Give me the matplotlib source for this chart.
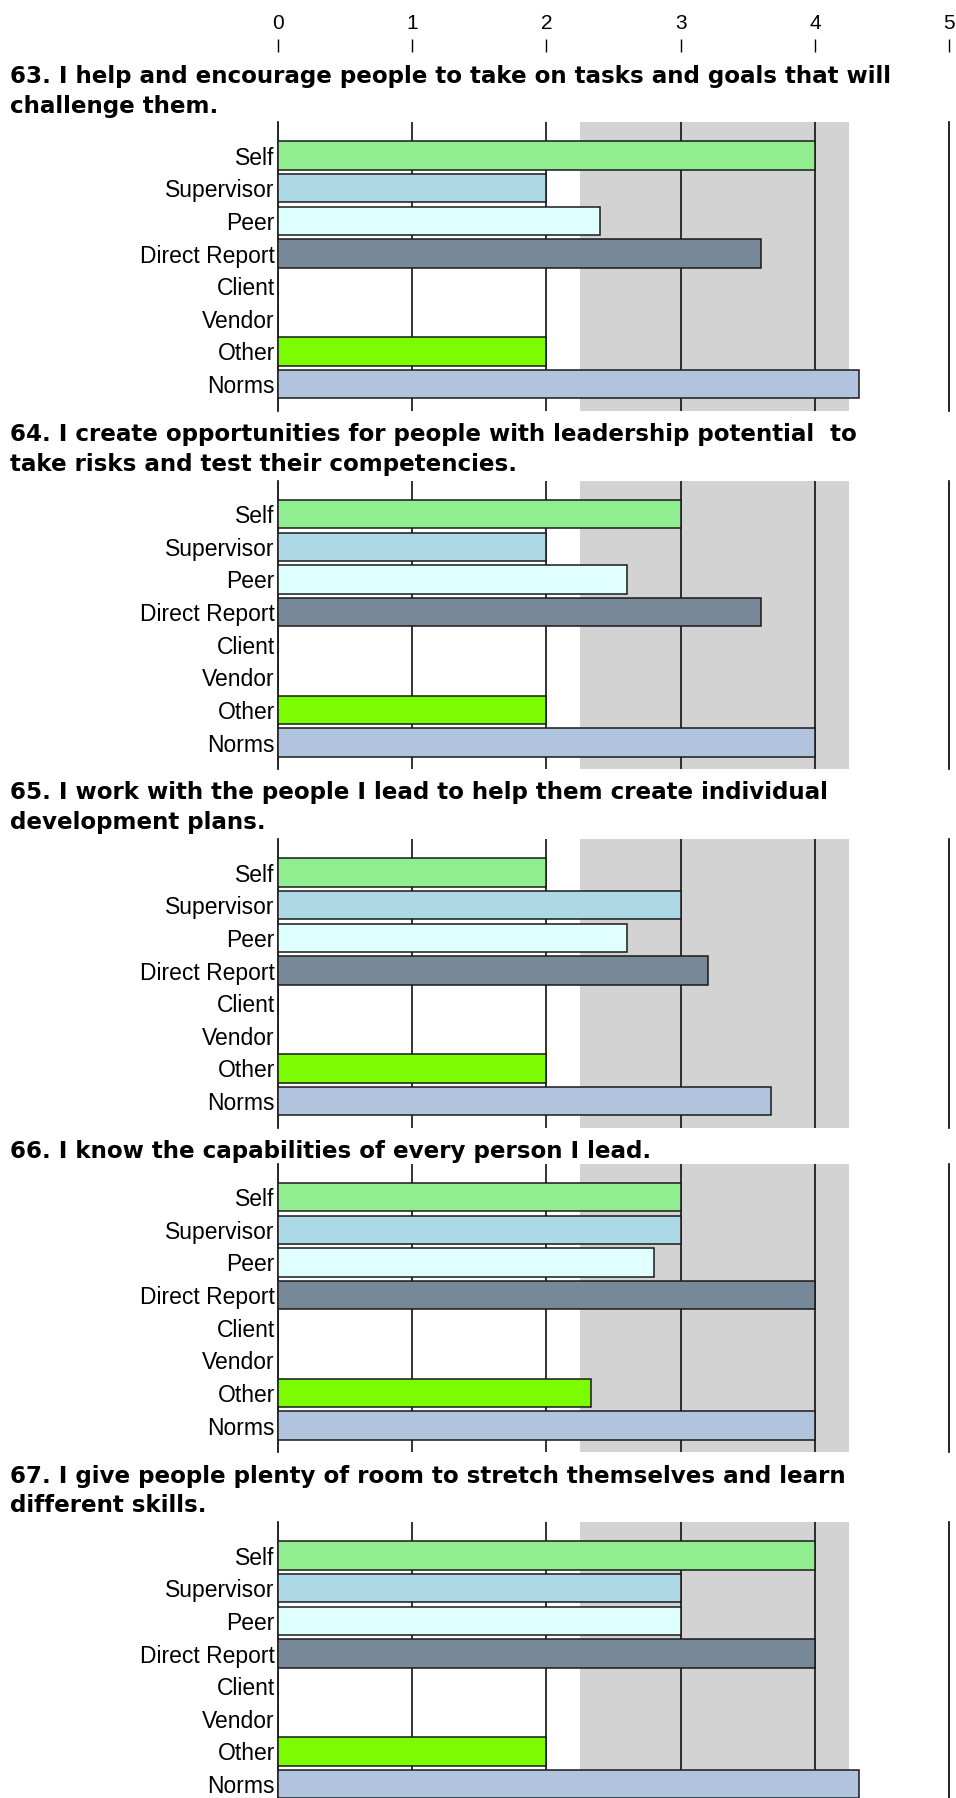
import matplotlib
matplotlib.use("Agg")
import matplotlib.pyplot as plt

# rater groups, top to bottom
categories = ["Self", "Supervisor", "Peer", "Direct Report", "Client", "Vendor", "Other", "Norms"]
colors = ["#90EE90", "#ADD8E6", "#E0FFFF", "#778899", "#FFFFFF", "#FFFFFF", "#7CFC00", "#B0C4DE"]

titles = [
    "63. I help and encourage people to take on tasks and goals that will\nchallenge them.",
    "64. I create opportunities for people with leadership potential  to\ntake risks and test their competencies.",
    "65. I work with the people I lead to help them create individual\ndevelopment plans.",
    "66. I know the capabilities of every person I lead.",
    "67. I give people plenty of room to stretch themselves and learn\ndifferent skills.",
]

q63 = [4, 2, 2.4, 3.6, 0, 0, 2, 4.33]
q64 = [3, 2, 2.6, 3.6, 0, 0, 2, 4]
q65 = [2, 3, 2.6, 3.2, 0, 0, 2, 3.67]
q66 = [3, 3, 2.8, 4, 0, 0, 2.33, 4]
q67 = [4, 3, 3, 4, 0, 0, 2, 4.33]
scores = [q63, q64, q65, q66, q67]

ticks = [0, 1, 2, 3, 4, 5]
tick_labels = ["0", "1", "2", "3", "4", "5"]
band = (2.25, 4.25)

W, H = 956, 1798
fig = plt.figure(figsize=(W / 100, H / 100), dpi=100)


def px_axes(x0, y0, x1, y1):
    # pixel box (top-left origin) -> figure axes
    return fig.add_axes([x0 / W, 1 - y1 / H, (x1 - x0) / W, (y1 - y0) / H])


X0, X1 = 277.7, 949.3
PANEL_H = 288.5

# header scale with the tick numbers
hdr = px_axes(X0, 52, X1, 52.01)
hdr.set_xlim(0, 5)
hdr.set_xticks(ticks)
hdr.set_xticklabels(tick_labels, family=["Liberation Sans Narrow", "Liberation Sans"], fontsize=15)
hdr.tick_params(axis="x", top=True, bottom=False, labeltop=True, labelbottom=False,
                direction="out", length=9.4, width=1, pad=4)
hdr.set_yticks([])
for s in hdr.spines.values():
    s.set_visible(False)
hdr.patch.set_visible(False)

prev_bottom = 52
for title, vals in zip(titles, scores):
    lines = title.split("\n")
    for i, line in enumerate(lines):
        fig.text(10 / W, 1 - (prev_bottom + 24 + 30 * i) / H, line,
                 family="DejaVu Sans", weight="bold", fontsize=16.6, va="center", ha="left")
    top = prev_bottom + 2 + 34 * len(lines)
    ax = px_axes(X0, top, X1, top + PANEL_H)

    ax.axvspan(band[0], band[1], color="#D3D3D3", zorder=0, lw=0)
    ax.barh(range(len(categories)), vals, height=0.87, color=colors,
            edgecolor="#1a1a1a", linewidth=1.1, zorder=3)

    ax.set_xlim(0, 5)
    ax.set_ylim(7.81, -1.03)
    ax.set_xticks(ticks[1:-1])
    ax.set_xticklabels([])
    ax.tick_params(axis="x", length=0)
    ax.grid(axis="x", color="#111111", linewidth=1.2, zorder=1)
    ax.set_axisbelow(True)
    ax.set_yticks(range(len(categories)))
    ax.set_yticklabels(categories, family="Liberation Sans", fontsize=16.5)
    ax.tick_params(axis="y", length=0, pad=2)
    ax.spines["top"].set_visible(False)
    ax.spines["bottom"].set_visible(False)
    ax.spines["left"].set_linewidth(1.2)
    ax.spines["right"].set_linewidth(1.2)
    ax.patch.set_facecolor("white")

    prev_bottom = top + PANEL_H

fig.savefig("out.png", dpi=100)
